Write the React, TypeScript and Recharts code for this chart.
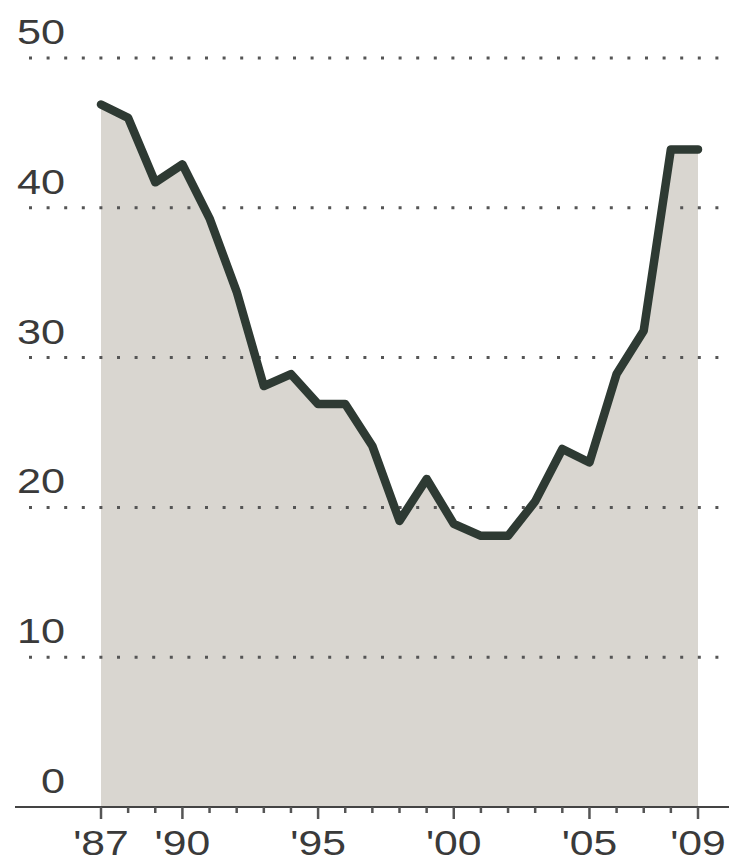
import { ComposedChart, Area, Line, XAxis, YAxis, ReferenceLine } from 'recharts';

const years = [
  1987, 1988, 1989, 1990, 1991, 1992, 1993, 1994, 1995, 1996, 1997, 1998,
  1999, 2000, 2001, 2002, 2003, 2004, 2005, 2006, 2007, 2008, 2009,
];
const values = [
  46.9, 46, 41.7, 42.9, 39.3, 34.4, 28.1, 28.9, 26.9, 26.9, 24.1, 19.1,
  21.9, 18.9, 18.1, 18.1, 20.4, 23.9, 23.0, 28.9, 31.8, 43.9, 43.9,
];
const labeledYears = [1987, 1990, 1995, 2000, 2005, 2009];
const yTicks = [0, 10, 20, 30, 40, 50];
const gridValues = [10, 20, 30, 40, 50];

const data = years.map((year, i) => ({ year, value: values[i] }));

const FONT = '"Liberation Sans", Arial, sans-serif';
const TEXT = '#3a3a3a';

function XTick({ x, y, payload }: any) {
  const year = payload.value as number;
  const major = labeledYears.includes(year);
  return (
    <g>
      <line x1={x} x2={x} y1={y} y2={y + (major ? 12 : 6)} stroke="#555" strokeWidth={2.5} />
      {major && (
        <text
          transform={`translate(${x},${y + 48}) scale(1.22,1)`}
          textAnchor="middle"
          fontFamily={FONT}
          fontSize={35}
          fill={TEXT}
        >
          {`'${String(year).slice(2)}`}
        </text>
      )}
    </g>
  );
}

function YTick({ y, payload }: any) {
  return (
    <text
      transform={`translate(65,${y - 14}) scale(1.2,1)`}
      textAnchor="end"
      fontFamily={FONT}
      fontSize={36}
      fill={TEXT}
    >
      {payload.value}
    </text>
  );
}

// dotted grid line that starts a little right of the axis line, as in the original
function DottedLine(props: any) {
  return (
    <line
      x1={29}
      y1={props.y1}
      x2={props.x2}
      y2={props.y2}
      stroke="#555"
      strokeWidth={3}
      strokeDasharray="3 14.6"
    />
  );
}

export default function App() {
  return (
    <div style={{ position: 'absolute', left: 0, top: 0, background: '#fff' }}>
      <ComposedChart
        width={729}
        height={862}
        data={data}
        margin={{ top: 58, right: 0, bottom: 0, left: 0 }}
      >
        <XAxis
          dataKey="year"
          type="number"
          domain={[1987, 2009]}
          ticks={years}
          interval={0}
          padding={{ left: 86, right: 31 }}
          height={55}
          tickSize={0}
          tickMargin={0}
          tickLine={false}
          axisLine={{ stroke: '#444', strokeWidth: 2 }}
          tick={<XTick />}
        />
        <YAxis
          type="number"
          domain={[0, 50]}
          ticks={yTicks}
          width={15}
          axisLine={false}
          tickLine={false}
          tick={<YTick />}
        />
        <Area
          type="linear"
          dataKey="value"
          stroke="none"
          fill="#d9d6d0"
          fillOpacity={1}
          baseValue={0}
          isAnimationActive={false}
        />
        {gridValues.map((v) => (
          <ReferenceLine key={v} y={v} shape={<DottedLine />} />
        ))}
        <Line
          type="linear"
          dataKey="value"
          stroke="#2e3a33"
          strokeWidth={8.5}
          strokeLinejoin="round"
          strokeLinecap="round"
          dot={false}
          activeDot={false}
          isAnimationActive={false}
        />
      </ComposedChart>
    </div>
  );
}
